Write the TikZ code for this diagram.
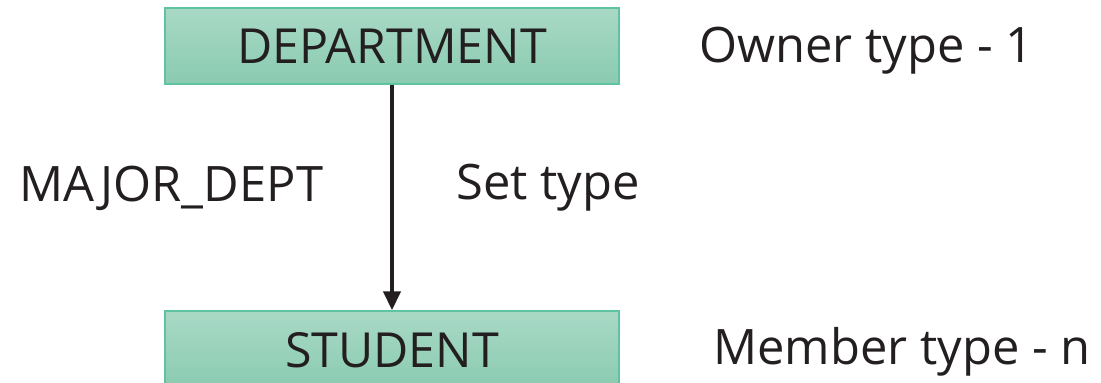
\documentclass[tikz,border=0pt]{standalone}
\usepackage{fontspec}
\setmainfont{Open Sans}
\usepackage{tikz}
\usetikzlibrary{arrows.meta}

\definecolor{boxtop}{HTML}{A9D9C6}
\definecolor{boxbot}{HTML}{8ACBB1}
\definecolor{boxline}{HTML}{5DC3A0}
\definecolor{ink}{HTML}{231F20}

\tikzset{
  recbox/.style={draw=boxline, line width=0.8pt, top color=boxtop, bottom color=boxbot,
    minimum width=9.08cm, minimum height=1.52cm, inner sep=0pt,
    font=\fontsize{27.5}{32}\selectfont, text=ink},
  lbl/.style={font=\fontsize{27.8}{32}\selectfont, text=ink, inner sep=0pt}
}

\begin{document}
\begin{tikzpicture}
      \useasboundingbox (0,0) rectangle (22.02,7.66);

      % owner record
      \node[recbox](dept) at (7.84, 6.74){DEPARTMENT};
      \node[lbl, anchor=west](owner) at (13.98, 6.64){Owner type - 1};

      % member record
      \node[recbox, minimum height=1.56cm](stud) at (7.84, 0.66){STUDENT};
      \node[lbl, anchor=west](member) at (14.26, 0.62){Member type - n};

      % the set
      \draw [line width=2.3pt, ink, -{Triangle[width=0.34cm, length=0.38cm]}] (dept.south) -- (stud.north);
      \node[lbl, anchor=west](setname) at (0.38, 3.90){MAJOR\_DEPT};
      \node[lbl, anchor=west](settype) at (9.12, 3.90){Set type};
    \end{tikzpicture}
\end{document}
